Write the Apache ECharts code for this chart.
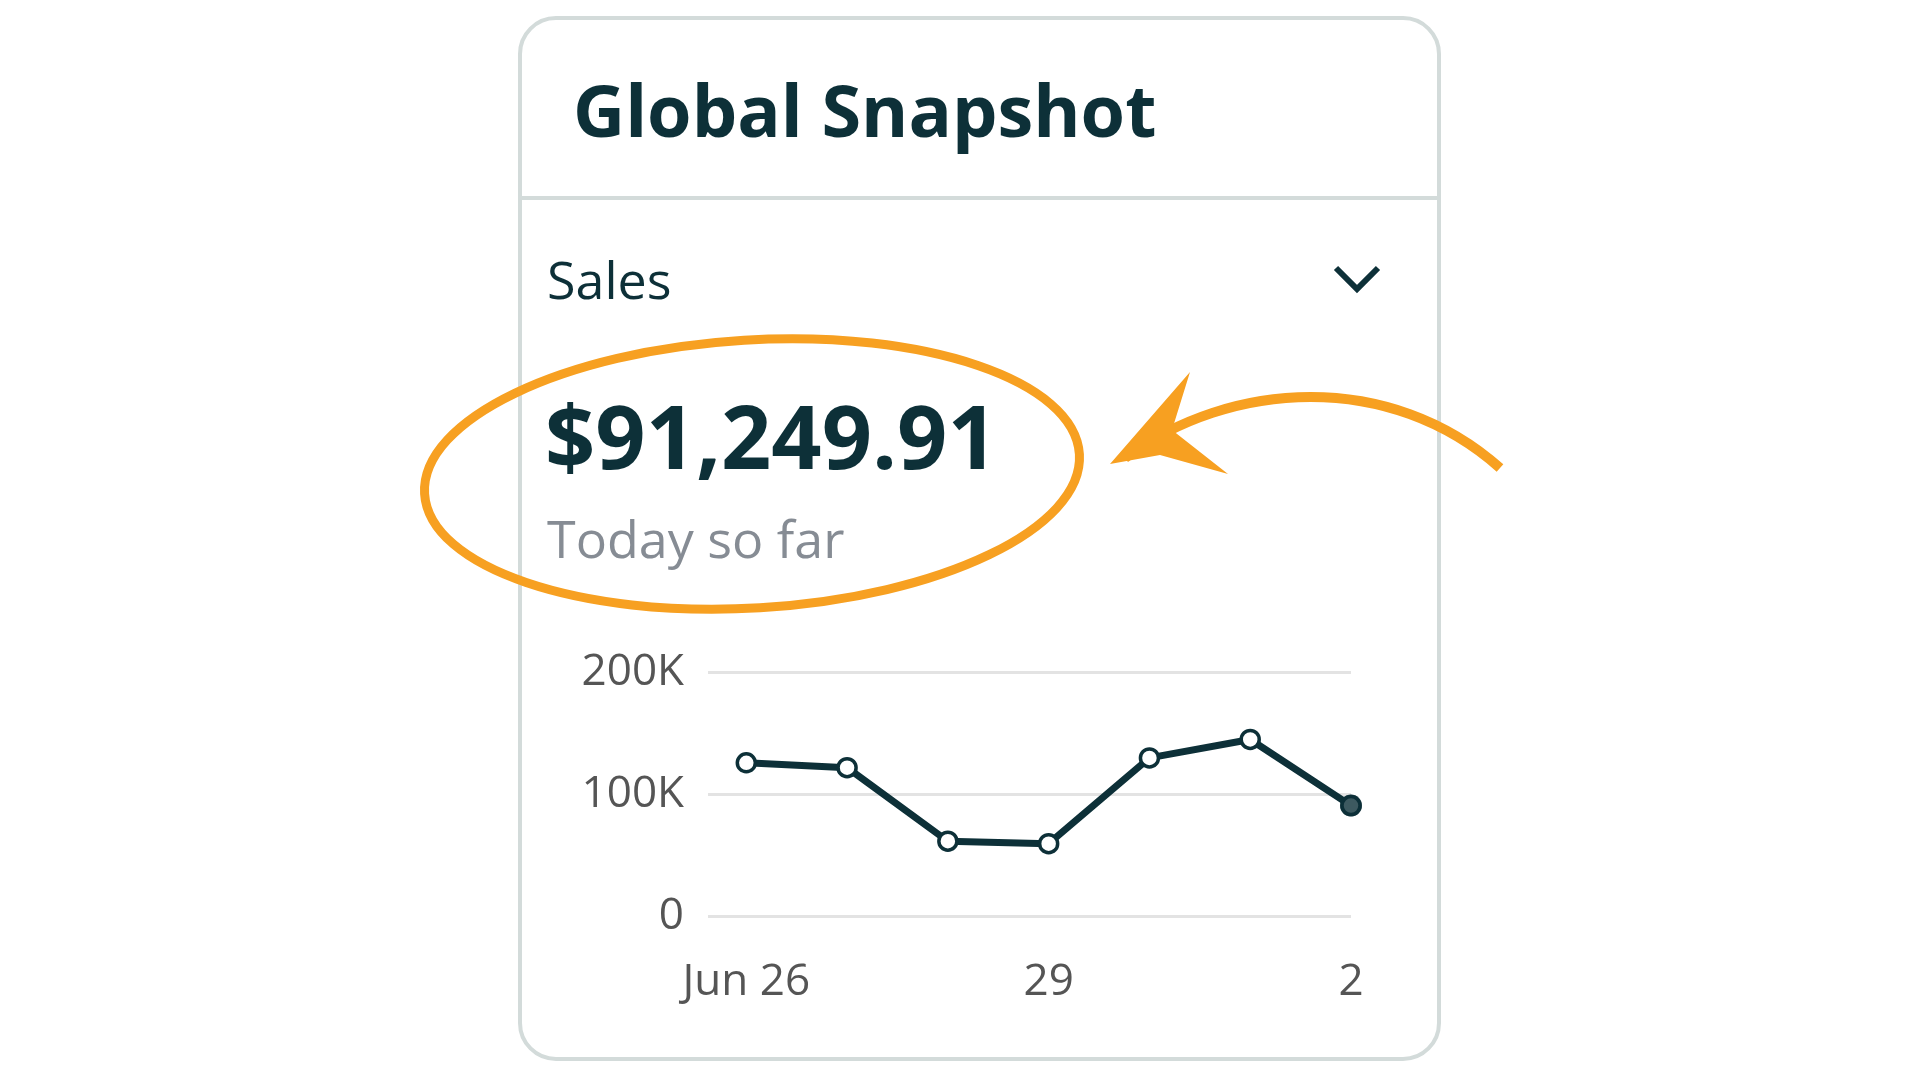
<!DOCTYPE html>
<html>
<head>
<meta charset="utf-8">
<script src="https://cdn.jsdelivr.net/npm/echarts@6/dist/echarts.min.js"></script>
<style>html,body{margin:0;padding:0;background:#fff}#main{width:1920px;height:1080px}</style>
</head>
<body>
<div id="main"></div>
<script>
// 数据
var categories = ['Jun 26', '27', '28', '29', '30', 'Jul 1', '2'];
var tickLabels = ['Jun 26', '29', '2'];
var tickIndex = [0, 3, 6];
var salesValues = [125600, 121600, 61300, 59300, 129600, 144700, 90500];

var myChart = echarts.init(document.getElementById('main'));
var dark = '#0d3038';
var orange = '#f7a021';

var points = salesValues.map(function (v, i) { return [i, v]; });

var option = {
    animation: false,
    grid: { left: 708, right: 569, top: 672, height: 244 },
    xAxis: {
        type: 'value',
        min: -0.38,
        max: 6,
        splitLine: { show: false },
        axisLine: { show: false },
        axisTick: { show: false },
        axisLabel: {
            customValues: tickIndex,
            formatter: function (v) { return tickLabels[tickIndex.indexOf(Math.round(v))] || ''; },
            color: '#555', fontSize: 44, fontFamily: 'Open Sans', margin: 44
        }
    },
    yAxis: {
        type: 'value', min: 0, max: 200000, interval: 100000,
        axisLine: { show: false },
        axisTick: { show: false },
        axisLabel: {
            formatter: function (v) { return v === 0 ? '0' : (v / 1000) + 'K'; },
            color: '#555', fontSize: 44, fontFamily: 'Open Sans', margin: 24
        },
        splitLine: { lineStyle: { color: '#e3e3e3', width: 3 } }
    },
    series: [{
        type: 'line',
        data: points,
        symbol: 'circle',
        symbolSize: 18,
        lineStyle: { color: dark, width: 7 },
        itemStyle: { color: '#fff', borderColor: dark, borderWidth: 3.5 },
        z: 5
    }, {
        type: 'scatter',
        data: [points[points.length - 1]],
        symbolSize: 22,
        itemStyle: { color: dark },
        z: 6
    }],
    graphic: [
        { type: 'rect', shape: { x: 520, y: 18, width: 919, height: 1041, r: 36 },
          style: { fill: 'none', stroke: '#d3dbda', lineWidth: 4 }, z: 0 },
        { type: 'line', shape: { x1: 522, y1: 198, x2: 1437, y2: 198 },
          style: { stroke: '#d3dbda', lineWidth: 4 } },
        { type: 'text', left: 573, top: 80, style: { text: 'Global Snapshot', font: 'bold 72px "Open Sans"', fill: dark } },
        { type: 'text', left: 547, top: 258, style: { text: 'Sales', font: '52px "Open Sans"', fill: dark } },
        { type: 'polyline', shape: { points: [[1336, 268], [1357, 289], [1378, 268]] },
          style: { stroke: dark, lineWidth: 6, fill: 'none' } },
        { type: 'text', left: 545, top: 400, style: { text: '$91,249.91', font: 'bold 88px "Open Sans"', fill: dark } },
        { type: 'text', left: 547, top: 517, style: { text: 'Today so far', font: '52px "Open Sans"', fill: '#868c94' } },
        { type: 'ellipse', shape: { cx: 752, cy: 474, rx: 328, ry: 134 }, rotation: 0.06, originX: 752, originY: 474,
          style: { fill: 'none', stroke: orange, lineWidth: 9 } },
        { type: 'bezierCurve', shape: { x1: 1500, y1: 468, x2: 1125, y2: 458, cpx1: 1390, cpy1: 370, cpx2: 1230, cpy2: 380 },
          style: { stroke: orange, lineWidth: 10, fill: 'none' } },
        { type: 'polygon', shape: { points: [[1110, 464], [1190, 372], [1172, 430], [1228, 474], [1160, 455]] },
          style: { fill: orange } }
    ]
};

myChart.setOption(option);
</script>
</body>
</html>
